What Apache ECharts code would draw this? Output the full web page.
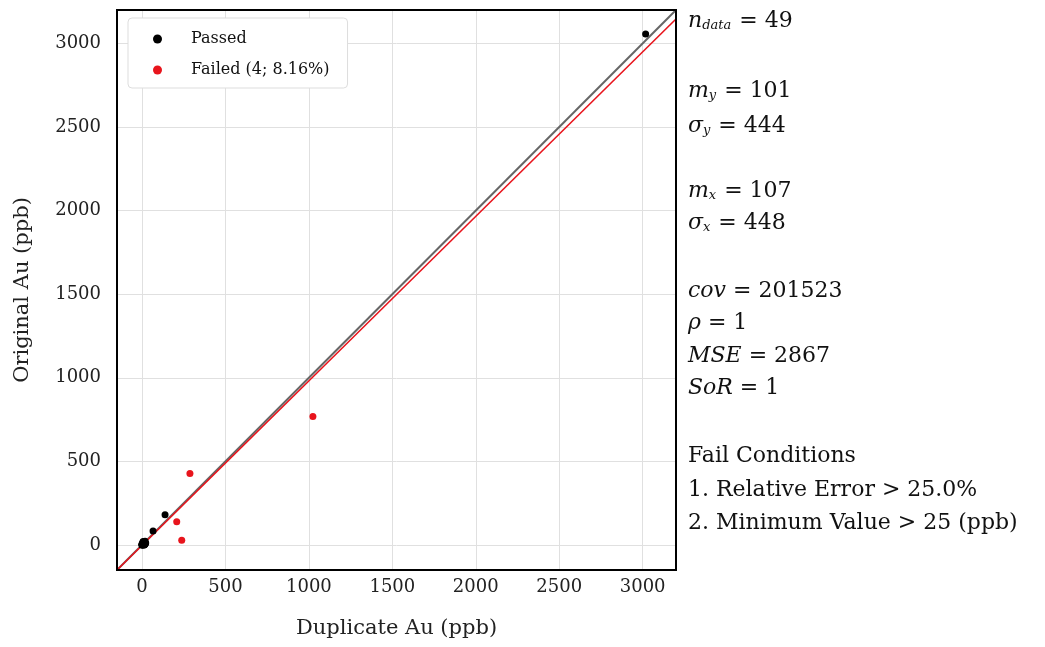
<!DOCTYPE html>
<html><head><meta charset="utf-8">
<script src="https://cdn.jsdelivr.net/npm/echarts@6/dist/echarts.min.js"></script>
<style>html,body{margin:0;padding:0;background:#fff}#c{width:1045px;height:647px}</style>
</head><body><div id="c"></div>
<script>
// Passed samples [duplicate, original]
const passedX = [3018, 66, 138, 2, 18, 8, 3, 22, 6, 4, 12, 1, 7, 18, 3, 0, 14, 2, 20, 8, 4, 11, 5, 0, 16, 9, 2, 10, 4, 13, 5, 1, 3, 7, 6, 10, 4, 2, 9, 5, 0, 8, 3, 7, 4];
const passedY = [3057, 84, 180, 3, 4, 16, 2, 12, 5, 4, 0, 2, 20, 22, 3, 6, 2, 1, 10, 9, 15, 0, 6, 0, 4, 18, 3, 14, 4, 8, 6, 1, 3, 8, 5, 11, 4, 2, 9, 6, 0, 9, 4, 7, 3];
const failedX = [287, 208, 238, 1024];
const failedY = [427, 138, 28, 769];
const axisMin = -150, axisMax = 3200;
const ticks = [0, 500, 1000, 1500, 2000, 2500, 3000];
const regression = { intercept: -2.4, slope: 0.984 };
const statLines = [
  ['{i|n}{s|data}{t| = 49}', 24],
  ['{i|m}{s|y}{t| = 101}', 94],
  ['{i|σ}{s|y}{t| = 444}', 129],
  ['{i|m}{s|x}{t| = 107}', 194],
  ['{i|σ}{s|x}{t| = 448}', 226],
  ['{i|cov}{t| = 201523}', 294],
  ['{i|ρ}{t| = 1}', 326],
  ['{i|MSE}{t| = 2867}', 359],
  ['{i|SoR}{t| = 1}', 391],
  ['{t|Fail Conditions}', 459],
  ['{t|1. Relative Error > 25.0%}', 493],
  ['{t|2. Minimum Value > 25 (ppb)}', 526]
];
const F = 'DejaVu Serif';
const zip = (a, b) => a.map((v, i) => [v, b[i]]);
const axisCommon = (name, gap, margin) => ({
  type: 'value', min: axisMin, max: axisMax,
  name: name, nameLocation: 'middle', nameGap: gap,
  nameTextStyle: { fontFamily: F, fontSize: 21, color: '#222' },
  axisLine: { show: false },
  axisTick: { show: false, customValues: ticks },
  axisLabel: { fontFamily: F, fontSize: 18, color: '#222', margin: margin, customValues: ticks, formatter: v => String(v) },
  splitLine: { show: true, lineStyle: { color: '#e0e0e0', width: 1 } }
});
const chart = echarts.init(document.getElementById('c'));
chart.setOption({
  animation: false,
  textStyle: { fontFamily: F },
  grid: { left: 117, right: 369, top: 10, bottom: 77, show: false },
  legend: {
    orient: 'vertical', left: 128, top: 18, padding: [13, 18, 10, 25], itemGap: 15,
    backgroundColor: '#fff', borderColor: '#ddd', borderWidth: 1, borderRadius: 4,
    itemWidth: 9, itemHeight: 9, textStyle: { fontFamily: F, fontSize: 16, color: '#111', padding: [0, 0, 0, 24] },
    data: [{ name: 'Passed', icon: 'circle' }, { name: 'Failed (4; 8.16%)', icon: 'circle' }]
  },
  xAxis: axisCommon('Duplicate Au (ppb)', 48, 8),
  yAxis: axisCommon('Original Au (ppb)', 84, 16),
  series: [
    { type: 'line', name: 'identity', data: [[axisMin, axisMin], [axisMax, axisMax]], symbol: 'none',
      lineStyle: { color: '#666', width: 2 }, z: 3, silent: true },
    { type: 'line', name: 'regression',
      data: [[axisMin, regression.intercept + regression.slope * axisMin], [axisMax, regression.intercept + regression.slope * axisMax]],
      symbol: 'none', lineStyle: { color: '#e8141c', width: 1.6 }, z: 4, silent: true },
    { type: 'scatter', name: 'Passed', data: zip(passedX, passedY), symbolSize: 7, itemStyle: { color: '#000', opacity: 1 }, z: 5 },
    { type: 'scatter', name: 'Failed (4; 8.16%)', data: zip(failedX, failedY), symbolSize: 7, itemStyle: { color: '#e8141c', opacity: 1 }, z: 6 }
  ],
  graphic: [{
    type: 'rect', z: 100, silent: true,
    shape: { x: 117, y: 10, width: 559, height: 560 },
    style: { fill: 'none', stroke: '#000', lineWidth: 2 }
  }].concat(statLines.map(([txt, y]) => ({
    type: 'text', left: 688, top: y - 14,
    style: {
      text: txt, fill: '#111',
      rich: {
        t: { fontFamily: F, fontSize: 22, fill: '#111', lineHeight: 30, verticalAlign: 'bottom' },
        i: { fontFamily: F, fontSize: 22, fontStyle: 'italic', fill: '#111', lineHeight: 30, verticalAlign: 'bottom' },
        s: { fontFamily: F, fontSize: 13, fontStyle: 'italic', fill: '#111', lineHeight: 30, verticalAlign: 'bottom', padding: [0, 1, 0, 0] }
      }
    }
  })))
});
</script></body></html>
